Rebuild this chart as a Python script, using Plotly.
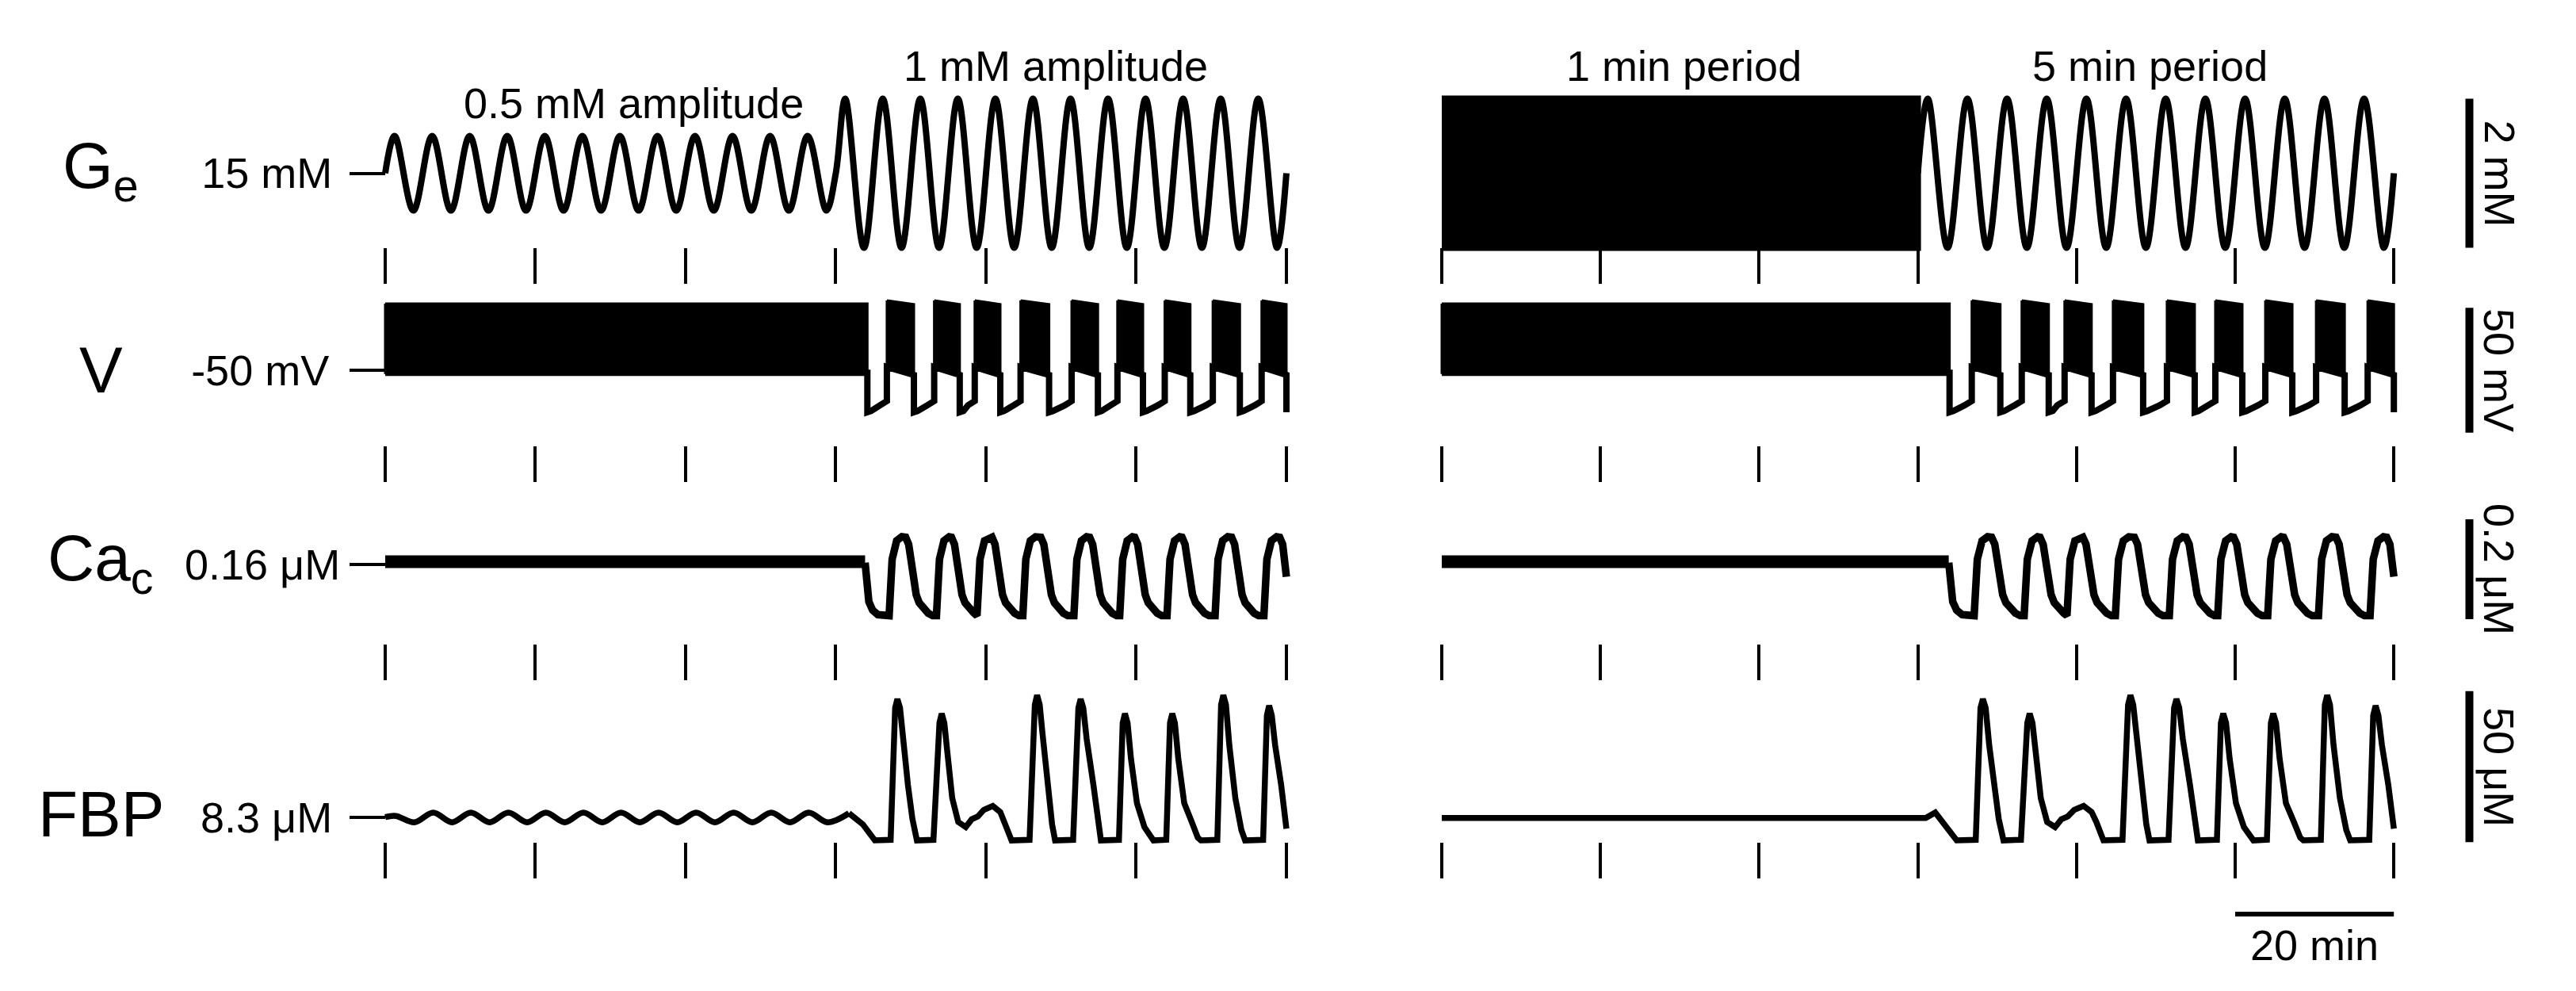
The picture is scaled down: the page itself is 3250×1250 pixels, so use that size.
import plotly.graph_objects as go

W, H = 3250, 1250
FONT = "Liberation Sans, Arial, Helvetica, sans-serif"
BLACK = "#000000"

# ------------------------------------------------------------------ data
tick_times = [0, 20, 40, 60, 80, 100, 120]          # minutes
row_names = ["G<sub>e</sub>", "V", "Ca<sub>c</sub>", "FBP"]
ref_values = [15, -50, 0.16, 8.3]
ref_labels = ["15 mM", "-50 mV", "0.16 μM", "8.3 μM"]
scale_values = [[14, 16], [-75, -25], [0.05, 0.25], [0, 50]]
scale_labels = ["2 mM", "50 mV", "0.2 μM", "50 μM"]
time_bar = [100, 120]
time_bar_label = "20 min"
protocol_labels_left = ["0.5 mM amplitude", "1 mM amplitude"]
protocol_labels_right = ["1 min period", "5 min period"]
protocol_t_left = [33.1, 89.3]
protocol_t_right = [30.5, 89.3]

# Ge (mM) -- left: 0.5 mM then 1 mM amplitude, 5 min period
ge_left_t = [0, 1.25, 3.75, 6.25, 8.75, 11.25, 13.75, 16.25, 18.75, 21.25, 23.75,
             26.25, 28.75, 31.25, 33.75, 36.25, 38.75, 41.25, 43.75, 46.25, 48.75,
             51.25, 53.75, 56.25, 58.75, 60, 61.25, 63.75, 66.25, 68.75, 71.25,
             73.75, 76.25, 78.75, 81.25, 83.75, 86.25, 88.75, 91.25, 93.75, 96.25,
             98.75, 101.25, 103.75, 106.25, 108.75, 111.25, 113.75, 116.25, 118.75, 120]
ge_left_v = [15, 15.5, 14.5, 15.5, 14.5, 15.5, 14.5, 15.5, 14.5, 15.5, 14.5,
             15.5, 14.5, 15.5, 14.5, 15.5, 14.5, 15.5, 14.5, 15.5, 14.5,
             15.5, 14.5, 15.5, 14.5, 15, 16, 14, 16, 14, 16,
             14, 16, 14, 16, 14, 16, 14, 16, 14, 16,
             14, 16, 14, 16, 14, 16, 14, 16, 14, 15]
# Ge right: 1 min period (dense band) then 5 min period
ge_fast_t = [0, 60]
ge_fast_hi = [16, 16]
ge_fast_lo = [14, 14]
ge_slow_t = [60, 61.25, 63.75, 66.25, 68.75, 71.25, 73.75, 76.25, 78.75, 81.25,
             83.75, 86.25, 88.75, 91.25, 93.75, 96.25, 98.75, 101.25, 103.75,
             106.25, 108.75, 111.25, 113.75, 116.25, 118.75, 120]
ge_slow_v = [15, 16, 14, 16, 14, 16, 14, 16, 14, 16,
             14, 16, 14, 16, 14, 16, 14, 16, 14,
             16, 14, 16, 14, 16, 14, 15]

# V (mV): spiking bands (start/end, envelope) and silent phases
v_band_start = [0, 66.8, 73.1, 78.5, 84.6, 91.4, 97.5, 103.8, 110.2, 116.7]
v_band_end_left = [64.2, 70.4, 76.5, 81.9, 88.4, 94.9, 100.9, 107.2, 113.8, 120.0]
v_band_end_right = [64.0, 70.4, 76.5, 81.9, 88.4, 94.9, 100.9, 107.2, 113.8, 120.0]
v_top_start = [-23.4, -22.1, -22.1, -22.1, -22.1, -22.1, -22.1, -22.1, -22.1, -22.1]
v_top_end = [-23.4, -23.6, -23.6, -23.6, -23.6, -23.6, -23.6, -23.6, -23.6, -23.6]
v_bot_start = [-51.0, -48.7, -48.7, -48.7, -48.7, -48.7, -48.7, -48.7, -48.7, -48.7]
v_bot_end = [-51.0, -51.9, -51.9, -51.9, -51.9, -51.9, -51.9, -51.9, -51.9, -51.9]
v_silent_t_left = [[64.2, 64.7, 65.9, 66.8], [70.4, 70.9, 72.2, 73.1],
                   [76.5, 77.0, 77.6, 78.5], [81.9, 82.4, 83.7, 84.6],
                   [88.4, 88.9, 90.5, 91.4], [94.9, 95.4, 96.6, 97.5],
                   [100.9, 101.4, 102.9, 103.8], [107.2, 107.7, 109.3, 110.2],
                   [113.8, 114.3, 115.8, 116.7], [120.0]]
v_silent_t_right = [[64.0, 64.5, 65.9, 66.8]] + v_silent_t_left[1:]
v_silent_v = [[-66.8, -66.3, -64.0, -62.3], [-66.8, -66.3, -64.0, -62.3],
              [-66.8, -66.3, -64.0, -62.3], [-66.8, -66.3, -64.0, -62.3],
              [-66.8, -66.3, -64.0, -62.3], [-66.8, -66.3, -64.0, -62.3],
              [-66.8, -66.3, -64.0, -62.3], [-66.8, -66.3, -64.0, -62.3],
              [-66.8, -66.3, -64.0, -62.3], [-66.8]]

# Ca_c (uM)
ca_flat_t = [0, 63.9]
ca_flat_v = [0.165, 0.165]
ca_osc_t = [63.9, 64.1, 64.4, 64.9, 65.6,
            67.1, 67.5, 68.1, 68.8, 69.3, 69.7, 70.0, 70.2, 70.4, 70.7, 71.1, 71.7, 72.3, 72.9,
            73.4, 73.8, 74.4, 75.1, 75.4, 75.8, 76.1, 76.3, 76.5, 76.8, 77.2, 77.8, 78.4,
            78.8, 79.2, 79.8, 80.5, 80.8, 81.2, 81.5, 81.7, 81.9, 82.2, 82.6, 83.2, 83.8, 84.4,
            84.9, 85.3, 85.9, 86.6, 87.3, 87.7, 88.0, 88.2, 88.4, 88.7, 89.1, 89.7, 90.3, 90.9,
            91.7, 92.1, 92.7, 93.4, 93.8, 94.2, 94.5, 94.7, 94.9, 95.2, 95.6, 96.2, 96.8, 97.4,
            97.8, 98.2, 98.8, 99.5, 99.8, 100.2, 100.5, 100.7, 100.9, 101.2, 101.6, 102.2, 102.8, 103.4,
            104.1, 104.5, 105.1, 105.8, 106.1, 106.5, 106.8, 107.0, 107.2, 107.5, 107.9, 108.5, 109.1, 109.7,
            110.5, 110.9, 111.5, 112.2, 112.7, 113.1, 113.4, 113.6, 113.8, 114.1, 114.5, 115.1, 115.7, 116.3,
            117.0, 117.4, 118.0, 118.7, 119.1, 119.5, 119.8, 120.0]
ca_osc_v = [0.163, 0.12, 0.085, 0.068, 0.059,
            0.057, 0.17, 0.207, 0.215, 0.214, 0.20, 0.17, 0.145, 0.126, 0.099, 0.083, 0.070, 0.062, 0.057,
            0.057, 0.17, 0.207, 0.215, 0.214, 0.20, 0.17, 0.145, 0.126, 0.099, 0.083, 0.070, 0.062,
            0.057, 0.17, 0.207, 0.215, 0.214, 0.20, 0.17, 0.145, 0.126, 0.099, 0.083, 0.070, 0.062, 0.057,
            0.057, 0.17, 0.207, 0.215, 0.214, 0.20, 0.17, 0.145, 0.126, 0.099, 0.083, 0.070, 0.062, 0.057,
            0.057, 0.17, 0.207, 0.215, 0.214, 0.20, 0.17, 0.145, 0.126, 0.099, 0.083, 0.070, 0.062, 0.057,
            0.057, 0.17, 0.207, 0.215, 0.214, 0.20, 0.17, 0.145, 0.126, 0.099, 0.083, 0.070, 0.062, 0.057,
            0.057, 0.17, 0.207, 0.215, 0.214, 0.20, 0.17, 0.145, 0.126, 0.099, 0.083, 0.070, 0.062, 0.057,
            0.057, 0.17, 0.207, 0.215, 0.214, 0.20, 0.17, 0.145, 0.126, 0.099, 0.083, 0.070, 0.062, 0.057,
            0.057, 0.17, 0.207, 0.215, 0.214, 0.20, 0.17, 0.135]

# FBP (uM)
fbp_left_wave_t = [0, 1.4, 3.9, 6.4, 8.9, 11.4, 13.9, 16.4, 18.9, 21.4, 23.9, 26.4, 28.9,
                   31.4, 33.9, 36.4, 38.9, 41.4, 43.9, 46.4, 48.9, 51.4, 53.9, 56.4, 58.9, 61.75]
fbp_left_wave_v = [8.3, 8.7, 6.6, 9.8, 6.6, 9.8, 6.6, 9.8, 6.6, 9.8, 6.6, 9.8, 6.6,
                   9.8, 6.6, 9.8, 6.6, 9.8, 6.6, 9.8, 6.6, 9.8, 6.6, 9.8, 6.6, 9.6]
fbp_left_drop_t = [61.75, 63.6, 65.2]
fbp_left_drop_v = [9.6, 5.9, 0.6]
fbp_right_head_t = [0, 61.0, 62.2, 63.7, 64.9]
fbp_right_head_v = [8.0, 8.0, 9.8, 5.1, 0.6]
fbp_tail_t = [67.3, 67.9, 68.2, 68.55, 69.0, 69.6, 70.2, 70.8,
              73.0, 73.8, 74.1, 74.45, 74.8, 75.5, 76.3, 77.3,
              78.1, 78.9, 79.7, 80.9, 81.9, 82.5, 83.4,
              85.8, 86.5, 86.8, 87.15, 87.5, 88.2, 88.8, 89.2,
              91.6, 92.3, 92.6, 92.95, 93.4, 94.3, 94.9, 95.3,
              97.7, 98.2, 98.5, 98.85, 99.3, 100.1, 101.1, 101.9, 102.3,
              104.0, 104.5, 104.8, 105.15, 105.6, 106.4, 107.4, 108.2, 108.6,
              110.8, 111.3, 111.6, 111.95, 112.4, 113.2, 114.0, 114.5,
              116.9, 117.4, 117.7, 118.05, 118.5, 119.3, 120.0]
fbp_tail_v = [0.8, 44.5, 47.4, 44.5, 32.1, 19.0, 7.7, 0.6,
              0.8, 39.5, 42.6, 39.5, 31.0, 14.6, 6.7, 5.0,
              7.6, 8.5, 10.7, 12.0, 10.0, 6.7, 0.6,
              0.8, 45.5, 48.7, 45.5, 36.5, 19.0, 5.9, 0.6,
              0.8, 44.5, 47.4, 44.5, 34.2, 19.0, 5.9, 0.6,
              0.8, 39.5, 42.6, 39.5, 27.7, 12.9, 5.0, 1.5, 0.6,
              0.8, 39.5, 42.6, 39.5, 27.7, 12.9, 6.7, 1.5, 0.6,
              0.8, 45.5, 48.7, 45.5, 32.1, 14.6, 4.1, 0.6,
              0.8, 42.0, 45.2, 42.0, 32.1, 19.0, 4.5]

# ------------------------------------------------------------------ geometry (pixels)
cols = [(486.0, 9.475), (1819.0, 10.01)]        # px of t=0, px per minute
T_RANGE = [-1.5, 121.5]
# px of reference value, px per unit, domain top, domain bottom, tick top
rows = [(218.5, 94.0, 95, 335, 311.7),
        (467.0, 3.154, 360, 560, 561.7),
        (711.7, 630.0, 640, 800, 811.7),
        (1030.7, 3.81, 855, 1080, 1061.7)]
TICKLEN = 45
label_standoff = [11, 15, 1, 11]
row_name_y = [214, 467, 710, 1026]
row_name_x = 127
scale_bar_x = [3102, 3129]
scale_label_x = 3153
time_bar_y = [1128, 1178]
time_label_y = 1192
protocol_y_left = [130, 83]
protocol_y_right = [83, 83]
W_GE, W_V, W_CA, W_FBP = 8, 8, 9.5, 7.5

fig = go.Figure()
layout = {}


def axname(kind, idx):
    return f"{kind}axis" if idx == 1 else f"{kind}axis{idx}"


for r, (cpx, k, top, bot, ttop) in enumerate(rows):
    v0 = ref_values[r]
    yr = [v0 + (cpx - bot) / k, v0 + (cpx - top) / k]
    for c, (px0, ppm) in enumerate(cols):
        idx = r * 2 + c + 1
        layout[axname("x", idx)] = dict(
            domain=[(px0 + T_RANGE[0] * ppm) / W, (px0 + T_RANGE[1] * ppm) / W],
            range=T_RANGE, anchor="free", position=1 - ttop / H,
            showline=False, showgrid=False, zeroline=False,
            ticks="outside", ticklen=TICKLEN, tickwidth=4, tickcolor=BLACK,
            tickvals=tick_times, showticklabels=False, fixedrange=True)
        ya = dict(domain=[1 - bot / H, 1 - top / H], range=yr, anchor="free",
                  position=px0 / W, showline=False, showgrid=False,
                  zeroline=False, fixedrange=True)
        if c == 0:
            ya.update(ticks="outside", ticklen=TICKLEN, tickwidth=4, tickcolor=BLACK,
                      tickvals=[v0], ticktext=[ref_labels[r]],
                      tickfont=dict(family=FONT, size=54, color=BLACK),
                      ticklabelstandoff=label_standoff[r])
        else:
            ya.update(ticks="", showticklabels=False)
        layout[axname("y", idx)] = ya

# extra axes: scale-bar column and time-bar strip
layout["xaxis9"] = dict(domain=[scale_bar_x[0] / W, scale_bar_x[1] / W], range=[0, 1],
                        anchor="free", position=0, visible=False, fixedrange=True)
layout["yaxis9"] = dict(domain=[1 - time_bar_y[1] / H, 1 - time_bar_y[0] / H], range=[-1, 1],
                        anchor="free", position=0, visible=False, fixedrange=True)


def line(x, y, xa, ya, width, shape="linear"):
    fig.add_trace(go.Scatter(x=x, y=y, xaxis=xa, yaxis=ya, mode="lines",
                             line=dict(color=BLACK, width=width, shape=shape),
                             hoverinfo="skip"))


def band(x, y, xa, ya, width):
    fig.add_trace(go.Scatter(x=x, y=y, xaxis=xa, yaxis=ya, mode="lines",
                             fill="toself", fillcolor=BLACK,
                             line=dict(color=BLACK, width=width), hoverinfo="skip"))


# --- Ge
line(ge_left_t, ge_left_v, "x", "y", W_GE, "spline")
band(ge_fast_t + ge_fast_t[::-1], ge_fast_hi + ge_fast_lo[::-1], "x2", "y2", W_GE)
line(ge_slow_t, ge_slow_v, "x2", "y2", W_GE, "spline")

# --- V
for c, (ends, silent_t) in enumerate([(v_band_end_left, v_silent_t_left),
                                       (v_band_end_right, v_silent_t_right)]):
    xa, ya = ("x3", "y3") if c == 0 else ("x4", "y4")
    bx, by, sx, sy = [], [], [], []
    for i, (s, e) in enumerate(zip(v_band_start, ends)):
        bx += [s, e, e, s, s, None]
        by += [v_top_start[i], v_top_end[i], v_bot_end[i], v_bot_start[i], v_top_start[i], None]
        sx += [s, e] + silent_t[i]
        sy += [v_bot_start[i], v_bot_end[i]] + v_silent_v[i]
    band(bx, by, xa, ya, 3)
    line(sx, sy, xa, ya, W_V)

# --- Ca
for xa, ya in [("x5", "y5"), ("x6", "y6")]:
    line(ca_flat_t, ca_flat_v, xa, ya, 16)
    line(ca_osc_t, ca_osc_v, xa, ya, W_CA)

# --- FBP
line(fbp_left_wave_t, fbp_left_wave_v, "x7", "y7", W_FBP, "spline")
line(fbp_left_drop_t + fbp_tail_t, fbp_left_drop_v + fbp_tail_v, "x7", "y7", W_FBP)
line(fbp_right_head_t + fbp_tail_t, fbp_right_head_v + fbp_tail_v, "x8", "y8", W_FBP)

# --- scale bars
for r in range(4):
    line([0.5, 0.5], scale_values[r], "x9", f"y{2 * r + 2}", 10)
line(time_bar, [0, 0], "x8", "y9", 6)

# ------------------------------------------------------------------ annotations
ann = []
for r in range(4):
    ann.append(dict(text=row_names[r], x=row_name_x / W, y=1 - row_name_y[r] / H,
                    xref="paper", yref="paper", xanchor="center", yanchor="middle",
                    showarrow=False, font=dict(family=FONT, size=82, color=BLACK)))
    sv = scale_values[r]
    ann.append(dict(text=scale_labels[r], x=scale_label_x / W, y=(sv[0] + sv[1]) / 2,
                    xref="paper", yref=f"y{2 * r + 2}", xanchor="center", yanchor="middle",
                    textangle=90, showarrow=False,
                    font=dict(family=FONT, size=54, color=BLACK)))
ann.append(dict(text=time_bar_label, x=(time_bar[0] + time_bar[1]) / 2, y=1 - time_label_y / H,
                xref="x8", yref="paper", xanchor="center", yanchor="middle",
                showarrow=False, font=dict(family=FONT, size=54, color=BLACK)))
for lbl, t, y in zip(protocol_labels_left, protocol_t_left, protocol_y_left):
    ann.append(dict(text=lbl, x=t, y=1 - y / H, xref="x", yref="paper",
                    xanchor="center", yanchor="middle", showarrow=False,
                    font=dict(family=FONT, size=54, color=BLACK)))
for lbl, t, y in zip(protocol_labels_right, protocol_t_right, protocol_y_right):
    ann.append(dict(text=lbl, x=t, y=1 - y / H, xref="x2", yref="paper",
                    xanchor="center", yanchor="middle", showarrow=False,
                    font=dict(family=FONT, size=54, color=BLACK)))

fig.update_layout(width=W, height=H, margin=dict(l=0, r=0, t=0, b=0),
                  paper_bgcolor="white", plot_bgcolor="white", showlegend=False,
                  annotations=ann, font=dict(family=FONT, color=BLACK), **layout)

fig.write_html("out.html", include_plotlyjs=True, config={"displayModeBar": False})
